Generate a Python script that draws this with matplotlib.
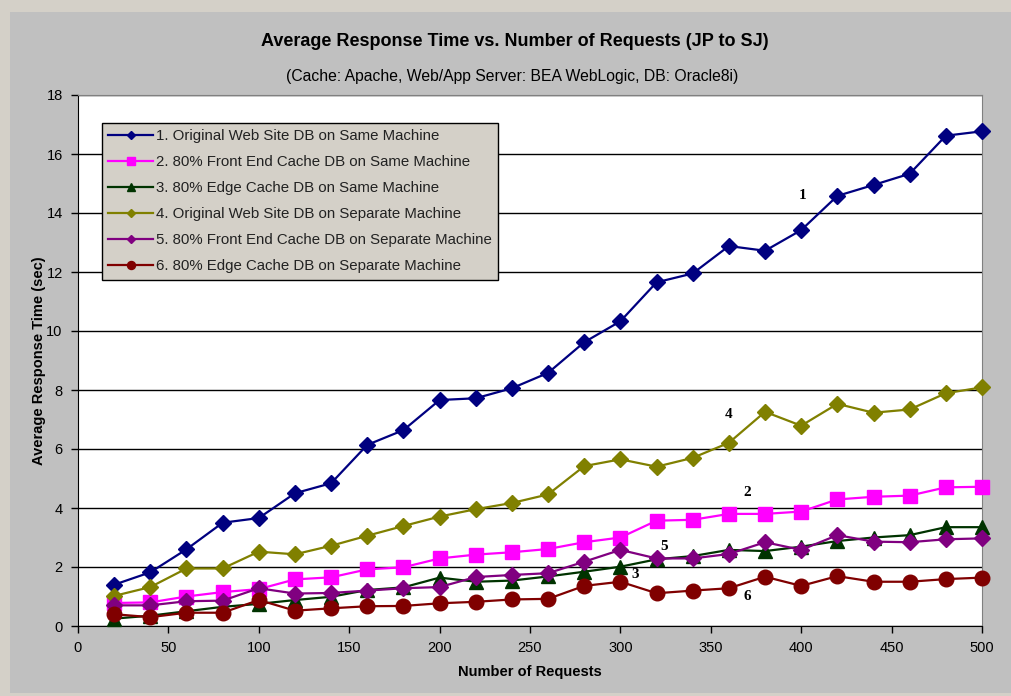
import matplotlib
matplotlib.use("Agg")
import matplotlib.pyplot as plt
import matplotlib.patches as mpatches

plt.rcParams["font.family"] = ["Liberation Sans", "DejaVu Sans"]

requests = [20, 40, 60, 80, 100, 120, 140, 160, 180, 200, 220, 240, 260,
            280, 300, 320, 340, 360, 380, 400, 420, 440, 460, 480, 500]

orig_same = [1.40, 1.82, 2.60, 3.50, 3.66, 4.50, 4.84, 6.14, 6.64, 7.66, 7.72, 8.06, 8.58,
             9.62, 10.33, 11.65, 11.95, 12.88, 12.72, 13.42, 14.58, 14.95, 15.33, 16.62, 16.77]
front_same = [0.78, 0.80, 1.00, 1.15, 1.25, 1.58, 1.65, 1.92, 1.99, 2.29, 2.42, 2.50, 2.61,
              2.84, 3.00, 3.57, 3.60, 3.80, 3.80, 3.88, 4.29, 4.38, 4.42, 4.70, 4.72]
edge_same = [0.25, 0.35, 0.50, 0.65, 0.75, 0.88, 0.99, 1.22, 1.31, 1.64, 1.50, 1.54, 1.68,
             1.84, 2.01, 2.26, 2.37, 2.58, 2.54, 2.69, 2.88, 3.00, 3.08, 3.35, 3.35]
orig_sep = [1.02, 1.32, 1.95, 1.95, 2.52, 2.43, 2.72, 3.06, 3.39, 3.71, 3.96, 4.17, 4.46,
            5.42, 5.65, 5.40, 5.70, 6.21, 7.26, 6.79, 7.53, 7.23, 7.34, 7.89, 8.09]
front_sep = [0.70, 0.70, 0.84, 0.86, 1.28, 1.10, 1.12, 1.20, 1.28, 1.32, 1.66, 1.73, 1.79,
             2.18, 2.58, 2.29, 2.29, 2.44, 2.84, 2.58, 3.08, 2.86, 2.84, 2.94, 2.97]
edge_sep = [0.40, 0.30, 0.45, 0.45, 0.88, 0.52, 0.60, 0.67, 0.68, 0.77, 0.82, 0.90, 0.92,
            1.36, 1.50, 1.11, 1.20, 1.28, 1.67, 1.36, 1.69, 1.50, 1.50, 1.59, 1.64]

labels = ["1. Original Web Site DB on Same Machine",
          "2. 80% Front End Cache DB on Same Machine",
          "3. 80% Edge Cache DB on Same Machine",
          "4. Original Web Site DB on Separate Machine",
          "5. 80% Front End Cache DB on Separate Machine",
          "6. 80% Edge Cache DB on Separate Machine"]

# number tags placed next to the curves: (label, x, y)
tags = [("1", 401, 14.58), ("4", 360, 7.18), ("2", 370, 4.52),
        ("5", 324, 2.71), ("3", 308, 1.76), ("6", 370, 0.99)]

series = [orig_same, front_same, edge_same, orig_sep, front_sep, edge_sep]
colors = ["#000080", "#FF00FF", "#003300", "#808000", "#800080", "#800000"]
markers = ["D", "s", "^", "D", "D", "o"]
msizes = [8.3, 10.5, 10, 8.3, 8.3, 10.5]

fig = plt.figure(figsize=(10.11, 6.96), dpi=100)
fig.patch.set_facecolor("#D4D0C8")
fig.patches.append(mpatches.Rectangle((10 / 1011, 3 / 696), 1 - 10 / 1011, (696 - 15) / 696,
                                      transform=fig.transFigure, facecolor="#C0C0C0",
                                      edgecolor="none", zorder=-5))

ax = fig.add_axes([78 / 1011, 70 / 696, 904 / 1011, 531 / 696])
ax.set_zorder(1)
ax.set_facecolor("white")

for ys, c, m, ms, lab in zip(series, colors, markers, msizes, labels):
    ax.plot(requests, ys, color=c, marker=m, markersize=ms, linewidth=1.6,
            markeredgecolor=c, label=lab, zorder=3, clip_on=False)

ax.set_xlim(0, 500)
ax.set_ylim(0, 18)
ax.set_xticks(range(0, 501, 50))
ax.set_yticks(range(0, 19, 2))
ax.grid(axis="y", color="black", linewidth=1)
ax.set_axisbelow(True)
ax.tick_params(direction="out", length=5, width=1, labelsize=10.5, colors="black", pad=6)
for s in ["top", "right"]:
    ax.spines[s].set_color("#808080")
for s in ["left", "bottom"]:
    ax.spines[s].set_color("black")

ax.set_xlabel("Number of Requests", fontsize=10.5, fontweight="bold", labelpad=7)
ax.set_ylabel("Average Response Time (sec)", fontsize=10.5, fontweight="bold", labelpad=0)

for t, x, y in tags:
    ax.text(x, y, t, fontsize=11, fontweight="bold", family="Liberation Serif",
            ha="center", va="center", zorder=4)

leg = ax.legend(loc="upper left", bbox_to_anchor=(24 / 904, 503 / 531), borderaxespad=0,
                fontsize=10.8, markerscale=0.55, handlelength=3.0, labelspacing=0.8,
                handletextpad=0.15, borderpad=0.42, fancybox=False, framealpha=1,
                facecolor="#D4D0C8", edgecolor="black")
leg.get_frame().set_linewidth(1)
for txt in leg.get_texts():
    txt.set_color("#222222")

fig.text(515 / 1011, 1 - 42 / 696, "Average Response Time vs. Number of Requests (JP to SJ)",
         ha="center", va="center", fontsize=13, fontweight="bold")
fig.text(512 / 1011, 1 - 77 / 696, "(Cache: Apache, Web/App Server: BEA WebLogic, DB: Oracle8i)",
         ha="center", va="center", fontsize=11.3)

fig.savefig("out.png", dpi=100, facecolor=fig.get_facecolor())
